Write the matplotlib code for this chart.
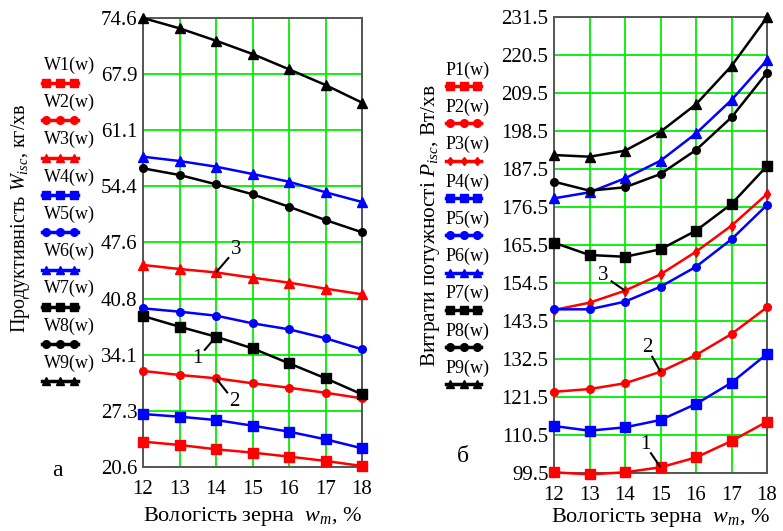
import matplotlib
matplotlib.use("Agg")
import matplotlib.pyplot as plt
from matplotlib.lines import Line2D

plt.rcParams['font.family'] = ['Liberation Serif', 'DejaVu Serif']
plt.rcParams['mathtext.fontset'] = 'custom'
plt.rcParams['mathtext.rm'] = 'Liberation Serif'
plt.rcParams['mathtext.it'] = 'Liberation Serif:italic'

# ---------------- data ----------------
w = [12, 13, 14, 15, 16, 17, 18]

W1 = [23.65, 23.25, 22.73, 22.33, 21.85, 21.33, 20.72]
W2 = [32.15, 31.67, 31.27, 30.67, 30.13, 29.53, 28.86]
W3 = [44.90, 44.41, 44.00, 43.37, 42.77, 42.05, 41.37]
W4 = [26.97, 26.65, 26.25, 25.57, 24.85, 23.93, 22.85]
W5 = [39.68, 39.28, 38.80, 37.88, 37.16, 36.08, 34.76]
W6 = [57.92, 57.40, 56.72, 55.84, 54.91, 53.64, 52.47]
W7 = [38.76, 37.47, 36.27, 34.87, 33.07, 31.27, 29.34]
W8 = [56.52, 55.72, 54.60, 53.40, 51.90, 50.30, 48.83]
W9 = [74.60, 73.36, 71.87, 70.27, 68.43, 66.54, 64.42]

P1 = [99.7, 99.1, 99.7, 101.15, 104.0, 108.76, 114.36]
P2 = [123.0, 123.8, 125.47, 128.8, 133.65, 139.74, 147.47]
P3 = [146.7, 148.8, 152.27, 157.0, 163.56, 171.1, 180.26]
P4 = [113.1, 111.75, 112.72, 114.85, 119.47, 125.65, 133.95]
P5 = [146.88, 146.88, 149.1, 153.43, 159.2, 167.15, 177.1]
P6 = [179.0, 180.75, 184.8, 189.9, 197.8, 207.47, 219.05]
P7 = [166.17, 162.6, 162.1, 164.25, 169.65, 177.37, 188.37]
P8 = [183.83, 181.23, 182.2, 186.05, 193.0, 202.46, 215.38]
P9 = [191.55, 191.06, 192.8, 198.3, 206.23, 217.32, 231.4]

W_ticks = [20.6, 27.35, 34.1, 40.85, 47.6, 54.35, 61.1, 67.85, 74.6]
W_tick_labels = ["20.6", "27.3", "34.1", "40.8", "47.6", "54.4", "61.1", "67.9", "74.6"]
P_ticks = [99.5, 110.5, 121.5, 132.5, 143.5, 154.5, 165.5, 176.5, 187.5,
           198.5, 209.5, 220.5, 231.5]
P_tick_labels = ["99.5", "110.5", "121.5", "132.5", "143.5", "154.5", "165.5",
                 "176.5", "187.5", "198.5", "209.5", "220.5", "231.5"]

W_names = ["W1(w)", "W2(w)", "W3(w)", "W4(w)", "W5(w)", "W6(w)", "W7(w)", "W8(w)", "W9(w)"]
P_names = ["P1(w)", "P2(w)", "P3(w)", "P4(w)", "P5(w)", "P6(w)", "P7(w)", "P8(w)", "P9(w)"]

RED, BLUE, BLACK = '#ff0000', '#0000ff', '#000000'
colors = [RED, RED, RED, BLUE, BLUE, BLUE, BLACK, BLACK, BLACK]
W_markers = ['s', 'o', '^', 's', 'o', '^', 's', 'o', '^']
P_markers = ['s', 'o', 'd', 's', 'o', '^', 's', 'o', '^']
msizes = {'s': 6.5, 'o': 5.5, '^': 6.5, 'd': 5}

FW, FH = 783, 531
fig = plt.figure(figsize=(FW / 100, FH / 100), dpi=100)


def px_axes(x0, y0, x1, y1):
    return fig.add_axes([x0 / FW, 1 - y1 / FH, (x1 - x0) / FW, (y1 - y0) / FH])


axL = px_axes(143, 18, 362, 467)
axR = px_axes(554, 17, 767, 473)


def style(ax, yticks, ylabels, ylim):
    ax.set_xlim(12, 18)
    ax.set_ylim(*ylim)
    ax.set_xticks(w)
    ax.set_xticklabels([str(v) for v in w], fontsize=15)
    ax.set_yticks(yticks)
    ax.set_yticklabels(ylabels, fontsize=15)
    ax.tick_params(length=0, pad=4)
    ax.tick_params(axis='x', pad=9)
    ax.grid(True, color='#00ee00', lw=1.3)
    ax.set_axisbelow(True)
    for s in ax.spines.values():
        s.set_color('#555555')
        s.set_linewidth(1.4)


style(axL, W_ticks, W_tick_labels, (20.6, 74.6))
style(axR, P_ticks, P_tick_labels, (99.5, 231.5))

W_series = [W1, W2, W3, W4, W5, W6, W7, W8, W9]
P_series = [P1, P2, P3, P4, P5, P6, P7, P8, P9]
for ys, c, m in zip(W_series, colors, W_markers):
    axL.plot(w, ys, color=c, lw=1.8, marker=m, ms=msizes[m], clip_on=False, zorder=3)
for ys, c, m in zip(P_series, colors, P_markers):
    axR.plot(w, ys, color=c, lw=1.8, marker=m, ms=msizes[m], clip_on=False, zorder=3)

axL.set_xlabel("Вологість зерна  $w_m$, %", fontsize=16, labelpad=5)
axR.set_xlabel("Вологість зерна  $w_m$, %", fontsize=16, labelpad=1)
fig.text(21 / FW, 1 - 218 / FH, "Продуктивність $W_{isc}$, кг/хв", rotation=90,
         fontsize=14.5, ha='center', va='center')
fig.text(430 / FW, 1 - 226 / FH, "Витрати потужності $P_{isc}$, Вт/хв", rotation=90,
         fontsize=15.4, ha='center', va='center')
fig.text(57 / FW, 1 - 470 / FH, "а", fontsize=17, ha='center', va='center')
fig.text(463 / FW, 1 - 457 / FH, "б", fontsize=17, ha='center', va='center')


# curve number labels with leader lines (leader starts a little off the digit)
def label(ax, txt, xy, xytext, start_frac=0.35):
    ax.text(xytext[0], xytext[1], txt, fontsize=15, ha='center', va='center', zorder=6)
    x0 = xytext[0] + (xy[0] - xytext[0]) * start_frac
    y0 = xytext[1] + (xy[1] - xytext[1]) * start_frac
    ax.plot([x0, xy[0]], [y0, xy[1]], color='black', lw=1.5, zorder=6,
            solid_capstyle='butt')


label(axL, "3", (14, W3[2]), (14.55, 46.8))
label(axL, "1", (14, W7[2]), (13.5, 33.7))
label(axL, "2", (14, W2[2]), (14.5, 28.5))
label(axR, "3", (14, P3[2]), (13.38, 156.7))
label(axR, "2", (15, P2[3]), (14.62, 135.9))
label(axR, "1", (15, P1[3]), (14.56, 107.8))


# legends (MathCAD style: name above a short sample)
def legend(names, markers, x_text, x0, x1, y_text0, y_line0, step):
    for i, (nm, c, m) in enumerate(zip(names, colors, markers)):
        yt = y_text0 + i * step
        yl = y_line0 + i * step
        fig.text(x_text / FW, 1 - yt / FH, nm, fontsize=13, ha='left', va='center')
        xs = [(x0 + 4) / FW, (x0 + x1) / 2 / FW, (x1 - 4) / FW]
        ln = Line2D([x0 / FW, x1 / FW], [1 - yl / FH] * 2, color=c, lw=2.5,
                    transform=fig.transFigure)
        mk = Line2D(xs, [1 - yl / FH] * 3, color=c, lw=0, marker=m,
                    ms=5.5 if m != 'd' else 4.5, transform=fig.transFigure)
        fig.add_artist(ln)
        fig.add_artist(mk)


legend(W_names, W_markers, 44, 42, 78, 65, 83, 37.3)
legend(P_names, P_markers, 446, 446, 481, 70, 86, 37.3)

fig.savefig("out.png", dpi=100)
